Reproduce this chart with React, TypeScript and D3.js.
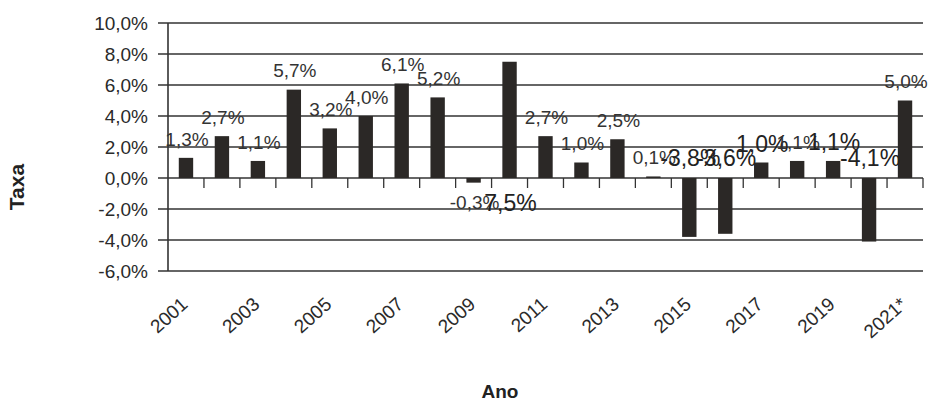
import React from "react";
import * as d3 from "d3";

const years = [
  "2001", "2002", "2003", "2004", "2005", "2006", "2007", "2008", "2009", "2010",
  "2011", "2012", "2013", "2014", "2015", "2016", "2017", "2018", "2019", "2020", "2021*",
];
const rates = [1.3, 2.7, 1.1, 5.7, 3.2, 4.0, 6.1, 5.2, -0.3, 7.5, 2.7, 1.0, 2.5, 0.1, -3.8, -3.6, 1.0, 1.1, 1.1, -4.1, 5.0];
const yTicks = [10, 8, 6, 4, 2, 0, -2, -4, -6];
const xLabelYears = ["2001", "2003", "2005", "2007", "2009", "2011", "2013", "2015", "2017", "2019", "2021*"];
// labels drawn in the larger font in the reference
const bigLabelYears = ["2010", "2015", "2016", "2017", "2019", "2020"];
// labels that sit away from their bar in the reference (value axis units)
const displacedLabels: Record<string, number> = { "2010": -1.6, "2015": 1.3, "2016": 1.3, "2020": 1.3 };

const W = 928;
const H = 403;
const FONT = "'Liberation Sans', Arial, sans-serif";

export default function App() {
  const x = d3.scaleBand<string>().domain(years).range([168, 923]).paddingInner(0.6).paddingOuter(0.3);
  const y = d3.scaleLinear().domain([-6, 10]).range([271, 23]);
  const step = x.step();
  const y0 = y(0);
  const fmt = (v: number) => v.toFixed(1).replace(".", ",") + "%";

  return (
    <svg width={W} height={H} style={{ position: "absolute", left: 0, top: 0, background: "#fff" }}>
      <rect x={0} y={0} width={W} height={H} fill="#fff" />
      {/* gridlines and y tick labels */}
      {yTicks.map((t) => (
        <g key={t}>
          <line x1={158} x2={923} y1={y(t)} y2={y(t)} stroke="#333" strokeWidth={1.6} />
          <text x={148} y={y(t)} dy="0.36em" textAnchor="end" fontFamily={FONT} fontSize={19} fill="#2a2a2a">
            {fmt(t)}
          </text>
        </g>
      ))}
      {/* vertical axis */}
      <line x1={168} x2={168} y1={y(10)} y2={y(-6)} stroke="#333" strokeWidth={1.6} />
      {/* category tick marks on the zero line */}
      {years.map((_, i) => (
        <line key={"t" + i} x1={168 + step * (i + 1)} x2={168 + step * (i + 1)} y1={y0} y2={y0 + 10} stroke="#333" strokeWidth={1.3} />
      ))}
      {/* bars */}
      {years.map((yr, i) => {
        const v = rates[i];
        return (
          <rect
            key={"b" + yr}
            x={x(yr)}
            width={x.bandwidth()}
            y={Math.min(y(v), y0)}
            height={Math.abs(y(v) - y0)}
            fill="#2b2826"
          />
        );
      })}
      {/* data labels */}
      {years.map((yr, i) => {
        const v = rates[i];
        const big = bigLabelYears.includes(yr);
        const cx = (x(yr) as number) + x.bandwidth() / 2;
        let cy: number;
        if (yr in displacedLabels) cy = y(displacedLabels[yr]);
        else cy = v >= 0 ? y(v) - 19 : y(v) + 20;
        return (
          <text
            key={"l" + yr}
            x={cx + 1}
            y={cy}
            dy="0.36em"
            textAnchor="middle"
            fontFamily={FONT}
            fontSize={big ? 23 : 19}
            fill={big ? "#222" : "#333"}
          >
            {fmt(v)}
          </text>
        );
      })}
      {/* x tick labels */}
      {xLabelYears.map((yr) => {
        const cx = (x(yr) as number) + x.bandwidth() / 2 + 3;
        const cy = 306;
        return (
          <text
            key={"x" + yr}
            x={cx}
            y={cy}
            textAnchor="end"
            transform={`rotate(-42 ${cx} ${cy})`}
            fontFamily={FONT}
            fontSize={19}
            fill="#2a2a2a"
          >
            {yr}
          </text>
        );
      })}
      {/* axis titles */}
      <text
        x={24}
        y={187}
        textAnchor="middle"
        transform="rotate(-90 24 187)"
        fontFamily={FONT}
        fontWeight="bold"
        fontSize={21}
        fill="#222"
      >
        Taxa
      </text>
      <text x={500} y={398} textAnchor="middle" fontFamily={FONT} fontWeight="bold" fontSize={19} fill="#222">
        Ano
      </text>
    </svg>
  );
}
